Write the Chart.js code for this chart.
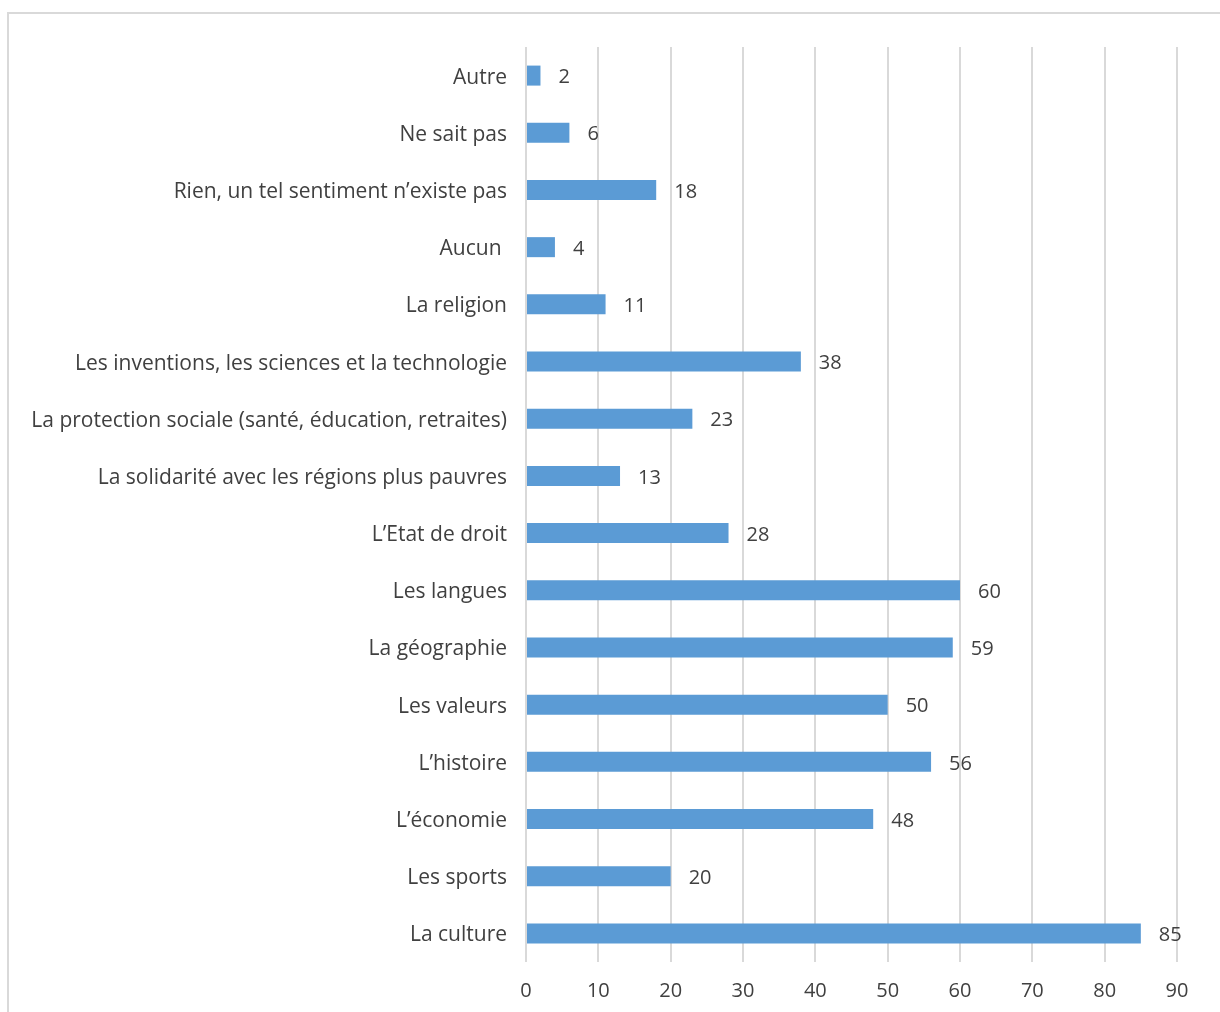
<!DOCTYPE html>
<html>
<head>
<meta charset="utf-8">
<script src="https://cdn.jsdelivr.net/npm/chart.js@4"></script>
<style>
  html, body { margin: 0; padding: 0; background: #fff; overflow: hidden; }
  #wrap { position: relative; width: 1220px; height: 1012px; }
  #frame { position: absolute; left: 7px; top: 12px; width: 1240px; height: 1010px; border: 2px solid #d9d9d9; box-sizing: border-box; }
  canvas { position: absolute; left: 0; top: 0; }
</style>
</head>
<body>
<div id="wrap">
  <div id="frame"></div>
  <canvas id="chart" width="1220" height="1012"></canvas>
</div>
<script>
const categories = [
  "Autre",
  "Ne sait pas",
  "Rien, un tel sentiment n’existe pas",
  "Aucun ",
  "La religion",
  "Les inventions, les sciences et la technologie",
  "La protection sociale (santé, éducation, retraites)",
  "La solidarité avec les régions plus pauvres",
  "L’Etat de droit",
  "Les langues",
  "La géographie",
  "Les valeurs",
  "L’histoire",
  "L’économie",
  "Les sports",
  "La culture"
];
const values = [2, 6, 18, 4, 11, 38, 23, 13, 28, 60, 59, 50, 56, 48, 20, 85];
const xMin = 0;
const xMax = 90;
const xStep = 10;

const FONT = "'Open Sans', Lato, sans-serif";
const TEXT = "#404040";

// value labels after the bar ends
const valueLabels = {
  id: "valueLabels",
  afterDatasetsDraw(chart) {
    const ctx = chart.ctx;
    const meta = chart.getDatasetMeta(0);
    ctx.save();
    ctx.font = "20px " + FONT;
    ctx.fillStyle = TEXT;
    ctx.textAlign = "left";
    ctx.textBaseline = "middle";
    meta.data.forEach((bar, i) => {
      ctx.fillText(String(values[i]), bar.x + 18, bar.y + 2);
    });
    ctx.restore();
  }
};

new Chart(document.getElementById("chart").getContext("2d"), {
  type: "bar",
  data: {
    labels: categories,
    datasets: [{
      data: values,
      backgroundColor: "#5b9bd5",
      borderWidth: 0,
      categoryPercentage: 1,
      barPercentage: 0.35
    }]
  },
  options: {
    indexAxis: "y",
    responsive: false,
    animation: false,
    layout: { padding: { top: 47, right: 43, bottom: 0, left: 0 } },
    plugins: {
      legend: { display: false },
      tooltip: { enabled: false }
    },
    scales: {
      x: {
        min: xMin,
        max: xMax,
        ticks: { stepSize: xStep, padding: 17, color: TEXT, font: { family: FONT, size: 20 } },
        grid: { color: "#d9d9d9", lineWidth: 2, drawTicks: false },
        border: { display: false },
        afterFit(scale) { scale.height = 50; }
      },
      y: {
        ticks: { padding: 19, labelOffset: 2, color: TEXT, font: { family: FONT, size: 21 } },
        grid: { display: false, drawTicks: false },
        border: { display: false },
        afterFit(scale) { scale.width = 526; }
      }
    }
  },
  plugins: [valueLabels]
});
</script>
</body>
</html>
